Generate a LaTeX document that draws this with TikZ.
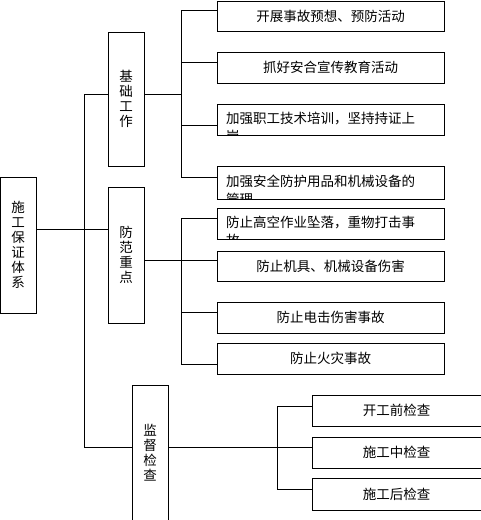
\documentclass[tikz,border=0pt]{standalone}
\usepackage{fontspec}
\newfontfamily\cjk{Noto Sans CJK SC}
\begin{document}
\begin{tikzpicture}[x=1pt,y=-1pt,
  box/.style={draw, line width=1pt, rectangle, inner sep=0pt, font={\cjk\fontsize{13.5}{15}\selectfont}},
  vbox/.style={box, minimum width=36, align=center},
  hbox/.style={box, minimum width=227},
  cbox/.style={box, minimum width=169},
  wraptext/.style={anchor=north west, inner sep=0pt, align=left, font={\cjk\fontsize{13.5}{17.5}\selectfont}},
  conn/.style={line width=1pt}]
\useasboundingbox (0,0) rectangle (480,520);
% level 0 and 1
\node[vbox, minimum width=35.5, minimum height=136] (root) at (18.25,245) {施\\工\\保\\证\\体\\系};
\node[vbox, minimum height=134] (A) at (126,99) {基\\础\\工\\作};
\node[vbox, minimum height=136] (B) at (126,255) {防\\范\\重\\点};
\node[vbox, minimum height=136] (C) at (150,453) {监\\督\\检\\查};
% level 2, group A
\node[hbox, minimum height=30] (a1) at (330.5,16) {开展事故预想、预防活动};
\node[hbox, minimum height=31] (a2) at (330.5,67.5) {抓好安合宣传教育活动};
\node[hbox, minimum height=31] (a3) at (330.5,119.5) {};
\node[hbox, minimum height=33] (a4) at (330.5,182.5) {};
% group B
\node[hbox, minimum height=31] (b1) at (330.5,223.5) {};
\node[hbox, minimum height=30] (b2) at (330.5,266) {防止机具、机械设备伤害};
\node[hbox, minimum height=31] (b3) at (330.5,317.5) {防止电击伤害事故};
\node[hbox, minimum height=31] (b4) at (330.5,358.5) {防止火灾事故};
% group C
\node[cbox, minimum height=31] (c1) at (396.5,410.5) {开工前检查};
\node[cbox, minimum height=31] (c2) at (396.5,452.5) {施工中检查};
\node[cbox, minimum height=32] (c3) at (396.5,494) {施工后检查};
% wrapped (clipped) texts
\begin{scope}
\clip (a3.south west) rectangle (a3.north east);
\node[wraptext] (a3t) at (226,112) {加强职工技术培训，坚持持证上\\岗};
\end{scope}
\begin{scope}
\clip (a4.south west) rectangle (a4.north east);
\node[wraptext] (a4t) at (226,175) {加强安全防护用品和机械设备的\\管理};
\end{scope}
\begin{scope}
\clip (b1.south west) rectangle (b1.north east);
\node[wraptext] (b1t) at (226,216) {防止高空作业坠落，重物打击事\\故};
\end{scope}
% junction coordinates
\coordinate (T1) at (84,94);
\coordinate (T2) at (84,229);
\coordinate (T3) at (84,447);
\coordinate (AJ) at (181,94);
\coordinate (a1j) at (181,10);
\coordinate (a2j) at (181,62);
\coordinate (a3j) at (181,125);
\coordinate (a4j) at (181,177);
\coordinate (BJ) at (181,260);
\coordinate (b1j) at (181,218);
\coordinate (b2j) at (181,260);
\coordinate (b3j) at (181,312);
\coordinate (b4j) at (181,364);
\coordinate (CJ) at (277,447);
\coordinate (c1j) at (277,406);
\coordinate (c2j) at (277,447);
\coordinate (c3j) at (277,489);
% connectors
\draw[conn] (root.east |- T2) -- (T2);
\draw[conn] (T1) -- (T3);
\draw[conn] (T1) -- (A.west |- T1);
\draw[conn] (T2) -- (B.west |- T2);
\draw[conn] (T3) -- (C.west |- T3);
\draw[conn] (A.east |- AJ) -- (AJ);
\draw[conn] (a1j) -- (a4j);
\draw[conn] (a1j) -- (a1.west |- a1j);
\draw[conn] (a2j) -- (a2.west |- a2j);
\draw[conn] (a3j) -- (a3.west |- a3j);
\draw[conn] (a4j) -- (a4.west |- a4j);
\draw[conn] (B.east |- BJ) -- (BJ);
\draw[conn] (b1j) -- (b4j);
\draw[conn] (b1j) -- (b1.west |- b1j);
\draw[conn] (b2j) -- (b2.west |- b2j);
\draw[conn] (b3j) -- (b3.west |- b3j);
\draw[conn] (b4j) -- (b4.west |- b4j);
\draw[conn] (C.east |- CJ) -- (CJ);
\draw[conn] (c1j) -- (c3j);
\draw[conn] (c1j) -- (c1.west |- c1j);
\draw[conn] (c2j) -- (c2.west |- c2j);
\draw[conn] (c3j) -- (c3.west |- c3j);
\end{tikzpicture}
\end{document}
